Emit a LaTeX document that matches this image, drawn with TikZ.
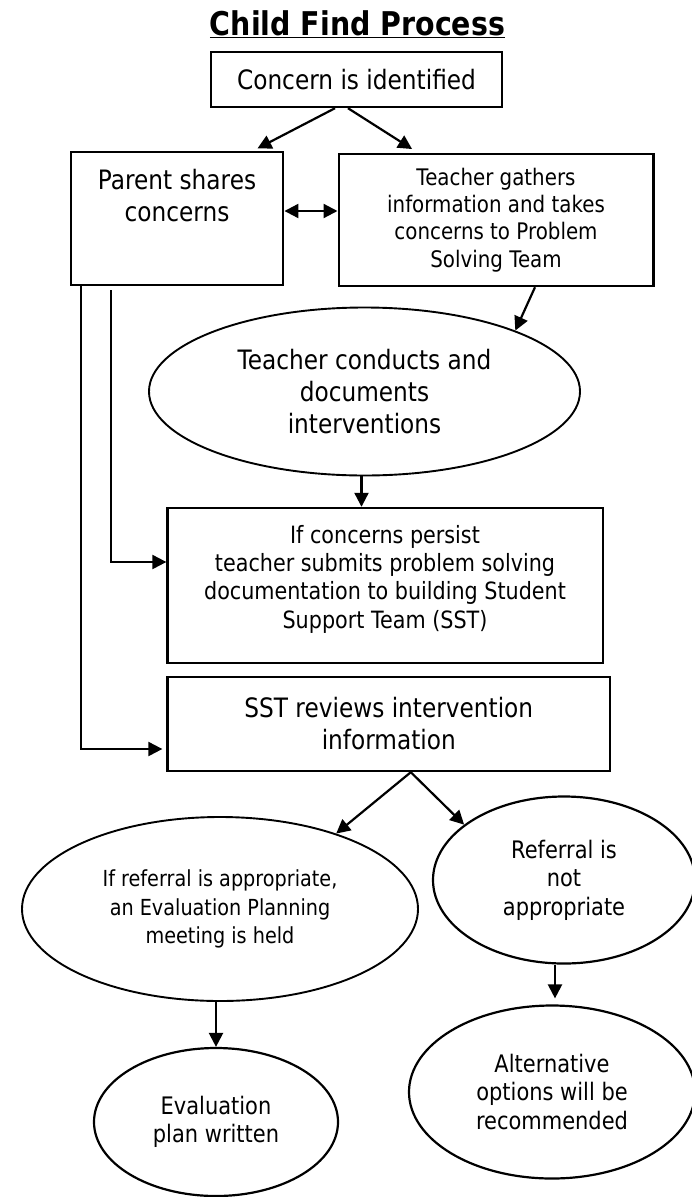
\documentclass[tikz,border=0pt]{standalone}
\usepackage{fontspec}
\setmainfont{DejaVu Sans}[FakeStretch=0.87]
\usetikzlibrary{arrows.meta,shapes.geometric}
\newcommand{\fbig}{\fontsize{26.7}{32}\selectfont}
\newcommand{\fsm}{\fontsize{23.8}{28.3}\selectfont}
\newcommand{\fell}{\fontsize{24.1}{28.6}\selectfont}
\newcommand{\fteach}{\fontsize{22.8}{27.3}\selectfont}
\newcommand{\fref}{\fontsize{22.1}{28.3}\selectfont}
\newcommand{\ftitle}{\fontsize{32.7}{36}\selectfont\bfseries}
\begin{document}
\begin{tikzpicture}[x=1pt,y=-1pt,
  box/.style={draw, line width=2.4pt, rectangle, inner sep=0pt, align=center},
  oval/.style={draw, line width=1.9pt, ellipse, inner sep=0pt, align=center},
  lbl/.style={inner sep=0pt, align=center},
  arr/.style={line width=2.2pt, -{Triangle[length=14pt,width=14pt]}},
  dbl/.style={line width=2.2pt, {Triangle[length=14pt,width=14pt]}-{Triangle[length=14pt,width=14pt]}}]
\useasboundingbox (0,0) rectangle (692,1197);
\node[lbl, anchor=base, font=\ftitle] (title) at (357.5,35) {\underline{Child Find Process}};
\node[box, font=\fbig, minimum width=291, minimum height=55] (concern) at (356.5,79.5) {Concern is identified};
\node[box, minimum width=212.5, minimum height=133] (parent) at (177,218.5) {};
\node[lbl, font=\fbig] (parenttxt) at (177,196) {Parent shares\\concerns};
\node[box, font=\fteach, minimum width=314.6, minimum height=132] (teacher) at (496,220) {Teacher gathers\\information and takes\\concerns to Problem\\Solving Team};
\node[oval, font=\fbig, minimum width=431, minimum height=168] (conducts) at (364.5,391.5) {Teacher conducts and\\documents\\interventions};
\node[box, minimum width=435.5, minimum height=155] (persist) at (385.3,585.5) {};
\node[lbl, font=\fsm] (persisttxt) at (385,579) {If concerns persist\\teacher submits problem solving\\documentation to building Student\\Support Team (SST)};
\node[box, font=\fbig, minimum width=442.5, minimum height=94] (sst) at (388.8,724) {SST reviews intervention\\information};
\node[oval, font=\fref, minimum width=396, minimum height=184] (ref) at (220,909) {If referral is appropriate,\\an Evaluation Planning\\meeting is held};
\node[oval, font=\fell, line width=2.2pt, minimum width=262, minimum height=167] (notref) at (564,880) {Referral is\\not\\appropriate};
\node[oval, font=\fell, line width=2.2pt, minimum width=286, minimum height=173] (alt) at (552,1092) {Alternative\\options will be\\recommended};
\node[oval, font=\fell, line width=2.2pt, minimum width=244, minimum height=148] (evalp) at (216,1122) {Evaluation\\plan written};
% connectors
\draw[arr, shorten >=5pt] ([xshift=-21.5]concern.south) -- ([xshift=76]parent.north);
\draw[arr, shorten >=7pt] ([xshift=-8.5]concern.south) -- ([xshift=-78]teacher.north);
\draw[dbl] ([yshift=7.5]parent.east) -- ([yshift=9]teacher.west);
\draw[arr] ([xshift=39]teacher.south) -- (conducts.22);
\draw[arr] ([xshift=-3]conducts.south) -- ([xshift=-3]conducts.south |- persist.north);
\draw[arr] ([xshift=-66,yshift=-4]parent.south) |- ([yshift=23.5]persist.west);
\draw[arr, shorten >=4pt] ([xshift=-96]parent.south) |- ([yshift=-25]sst.west);
\draw[arr] ([xshift=22]sst.south) -- (ref.33);
\draw[arr] ([xshift=22]sst.south) -- (notref.151);
\draw[arr, shorten >=6pt] ([xshift=-9]notref.south) -- ([xshift=-9]notref.south |- alt.north);
\draw[arr] (ref.south -| evalp.north) -- (evalp.north);
\end{tikzpicture}
\end{document}
